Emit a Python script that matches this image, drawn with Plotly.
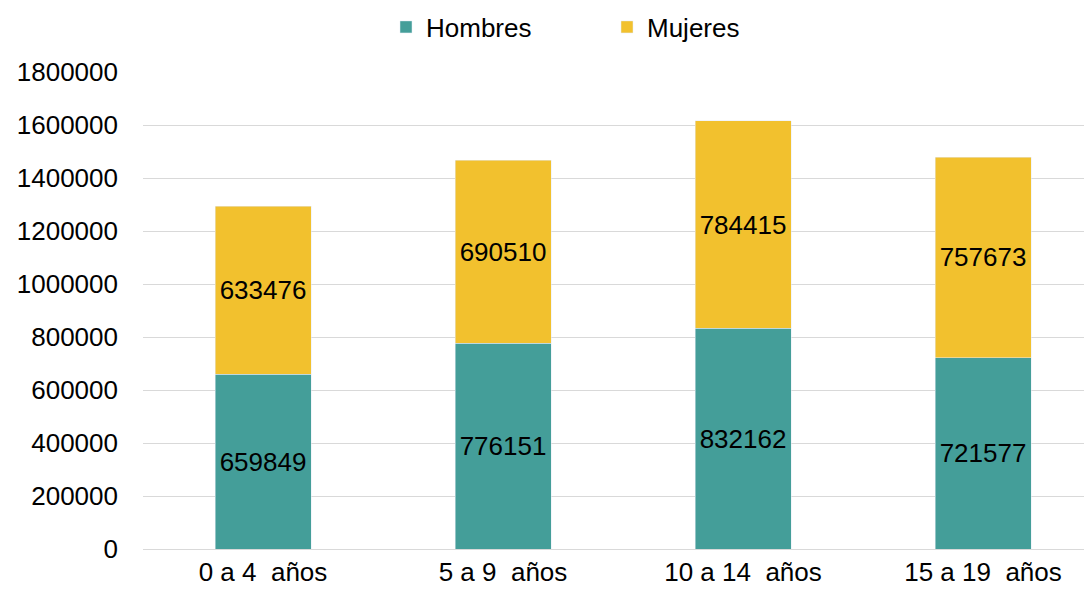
import plotly.graph_objects as go

categories = ["0 a 4  años", "5 a 9  años", "10 a 14  años", "15 a 19  años"]
hombres = [659849, 776151, 832162, 721577]
mujeres = [633476, 690510, 784415, 757673]
y_ticks = [0, 200000, 400000, 600000, 800000, 1000000, 1200000, 1400000, 1600000, 1800000]

font = "Liberation Sans, Arial, sans-serif"

fig = go.Figure()
fig.add_trace(go.Bar(
    x=categories, y=hombres, name="Hombres", marker_color="#449E99",
    text=[str(v) for v in hombres], textposition="inside", insidetextanchor="middle",
    textfont=dict(family=font, size=26, color="black"), width=0.4,
))
fig.add_trace(go.Bar(
    x=categories, y=mujeres, name="Mujeres", marker_color="#F2C12E",
    text=[str(v) for v in mujeres], textposition="inside", insidetextanchor="middle",
    textfont=dict(family=font, size=26, color="black"), width=0.4,
))

fig.update_layout(
    barmode="stack",
    width=1092, height=593,
    margin=dict(l=135, r=0, t=64, b=52, autoexpand=False),
    plot_bgcolor="white", paper_bgcolor="white",
    font=dict(family=font, size=26, color="black"),
    uniformtext=dict(mode=False),
    legend=dict(orientation="h", x=(401 - 8 - 15) / 1092, xanchor="left",
                y=1 - 19 / 593, yanchor="middle",
                yref="container", xref="container", font=dict(size=26),
                traceorder="normal", itemwidth=30, entrywidth=176, entrywidthmode="pixels"),
    showlegend=True,
)
fig.update_xaxes(range=[-0.5, 3.4875], showgrid=False, showline=True, linecolor="#d9d9d9",
                 linewidth=1, tickfont=dict(size=26), ticks="")
fig.update_yaxes(range=[0, 1800000], tickvals=y_ticks, ticktext=[str(v) for v in y_ticks],
                 showgrid=True, gridcolor="#d9d9d9", gridwidth=1, zeroline=False,
                 tickfont=dict(size=26), ticks="", ticklabelstandoff=24)

fig.write_html("out.html")
